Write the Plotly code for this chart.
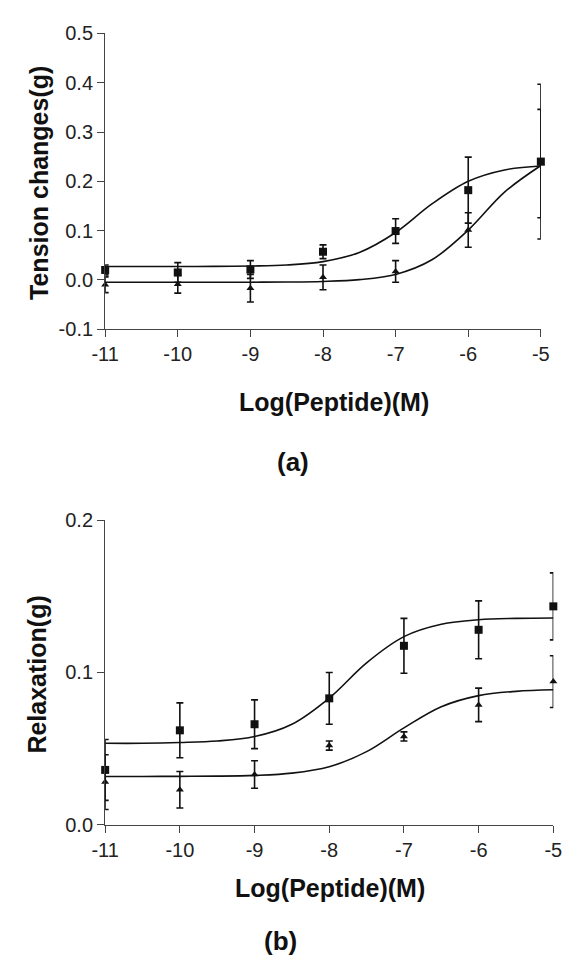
import plotly.graph_objects as go

W, H = 570, 967

# ---------- data ----------
log_conc = [-11, -10, -9, -8, -7, -6, -5]

# (a) Tension changes (g)
a_sq_mean = [0.020, 0.015, 0.021, 0.057, 0.099, 0.182, 0.240]
a_sq_err = [0.010, 0.020, 0.018, 0.014, 0.025, 0.067, 0.157]
a_tri_mean = [-0.010, -0.009, -0.017, 0.005, 0.017, 0.101, 0.236]
a_tri_err = [0.016, 0.018, 0.028, 0.025, 0.022, 0.035, 0.110]

# (b) Relaxation (g)
b_sq_mean = [0.036, 0.062, 0.066, 0.083, 0.1175, 0.128, 0.1434]
b_sq_err = [0.020, 0.018, 0.016, 0.017, 0.018, 0.019, 0.022]
b_tri_mean = [0.028, 0.023, 0.033, 0.052, 0.058, 0.0787, 0.094]
b_tri_err = [0.018, 0.012, 0.009, 0.003, 0.003, 0.011, 0.017]

# fitted curves
curve_x = [-11, -10.5, -10, -9.5, -9, -8.5, -8, -7.5, -7, -6.5, -6, -5.5, -5]
a_sq_curve = [0.027, 0.027, 0.027, 0.0273, 0.028, 0.030, 0.037, 0.0555, 0.096, 0.154, 0.200, 0.223, 0.231]
a_tri_curve = [-0.005, -0.005, -0.005, -0.005, -0.0048, -0.0045, -0.0033, 0.0004, 0.011, 0.0407, 0.101, 0.178, 0.232]
b_sq_curve = [0.0535, 0.0535, 0.054, 0.055, 0.0579, 0.066, 0.0832, 0.1063, 0.1235, 0.1316, 0.1346, 0.1355, 0.1358]
b_tri_curve = [0.0317, 0.0317, 0.0318, 0.0319, 0.0324, 0.0339, 0.0381, 0.0480, 0.0636, 0.0775, 0.0848, 0.0876, 0.0886]

x_ticks = [-11, -10, -9, -8, -7, -6, -5]
a_y_ticks = [-0.1, 0.0, 0.1, 0.2, 0.3, 0.4, 0.5]
b_y_ticks = [0.0, 0.1, 0.2]

FONT = "Liberation Sans, Arial, sans-serif"
INK = "#111111"
AX = "#444444"

fig = go.Figure()


def add_points(x, y, err, symbol, size, xa, ya):
    fig.add_trace(go.Scatter(
        x=x, y=y, mode="markers", xaxis=xa, yaxis=ya,
        marker=dict(symbol=symbol, size=size, color=INK),
        error_y=dict(type="data", array=err, visible=True, color=INK,
                     thickness=1.6, width=3.5),
        cliponaxis=False, showlegend=False))


def add_curve(x, y, xa, ya):
    fig.add_trace(go.Scatter(
        x=x, y=y, mode="lines", xaxis=xa, yaxis=ya,
        line=dict(color=INK, width=1.6, shape="spline", smoothing=1.0),
        cliponaxis=False, showlegend=False))


# panel (a)
add_curve(curve_x, a_sq_curve, "x", "y")
add_curve(curve_x, a_tri_curve, "x", "y")
add_points(log_conc, a_tri_mean, a_tri_err, "triangle-up", 7, "x", "y")
add_points(log_conc, a_sq_mean, a_sq_err, "square", 8, "x", "y")

# panel (b)
add_curve(curve_x, b_sq_curve, "x2", "y2")
add_curve(curve_x, b_tri_curve, "x2", "y2")
add_points(log_conc, b_tri_mean, b_tri_err, "triangle-up", 7, "x2", "y2")
add_points(log_conc, b_sq_mean, b_sq_err, "square", 8, "x2", "y2")


def px_x(p):
    return p / W


def px_y(p):
    return 1 - p / H


axis_common = dict(
    showline=True, linecolor=AX, linewidth=1.2, ticks="outside", ticklen=7,
    tickwidth=1.2, tickcolor=AX, showgrid=False, zeroline=False,
    tickfont=dict(family=FONT, size=20, color="#222222"),
)

fig.update_layout(
    width=W, height=H,
    margin=dict(l=0, r=0, t=0, b=0),
    paper_bgcolor="white", plot_bgcolor="white",
    xaxis=dict(domain=[px_x(95), px_x(549)], range=[-11, -5], anchor="y",
               tickvals=x_ticks, ticktext=[str(v) for v in x_ticks], **axis_common),
    yaxis=dict(domain=[px_y(325.5), px_y(23)], range=[-0.1, 0.5], anchor="x",
               tickvals=a_y_ticks, ticktext=[f"{v:.1f}" for v in a_y_ticks], **axis_common),
    xaxis2=dict(domain=[px_x(95), px_x(562)], range=[-11, -5], anchor="y2",
                tickvals=x_ticks, ticktext=[str(v) for v in x_ticks], **axis_common),
    yaxis2=dict(domain=[px_y(832.7), px_y(521)], range=[0, 0.2], anchor="x2",
                tickvals=b_y_ticks, ticktext=[f"{v:.1f}" for v in b_y_ticks], **axis_common),
)


def label(text, xp, yp, size, angle=0):
    fig.add_annotation(text=f"<b>{text}</b>", x=px_x(xp), y=px_y(yp),
                       xref="paper", yref="paper", showarrow=False,
                       textangle=angle, xanchor="center", yanchor="middle",
                       font=dict(family=FONT, size=size, color=INK))


label("Log(Peptide)(M)", 333, 400, 25)
label("(a)", 291, 461, 26)
label("Tension changes(g)", 26, 176, 25, -90)
label("Log(Peptide)(M)", 329, 897, 25)
label("(b)", 278, 952, 26)
label("Relaxation(g)", 23, 679, 25, -90)

fig.write_html("out.html")
